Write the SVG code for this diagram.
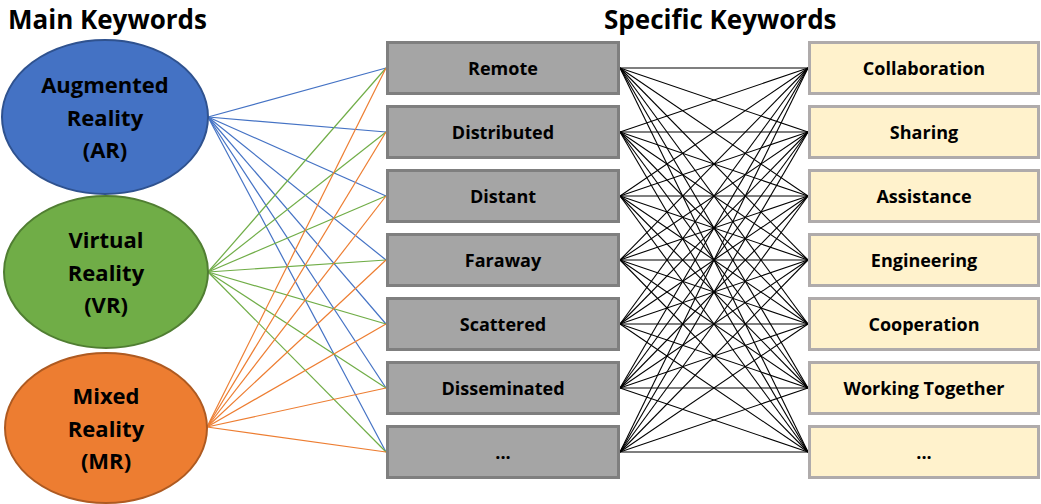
<svg xmlns="http://www.w3.org/2000/svg" width="1041" height="504" viewBox="0 0 1041 504">
<style>
text{font-family:"Open Sans","Liberation Sans",sans-serif;font-weight:bold;fill:#000;text-anchor:middle}
.title{font-size:26px;text-anchor:start}
.el{font-size:22px}
.bx{font-size:18px}
.g{fill:#a5a5a5;stroke:#7f7f7f;stroke-width:3}
.y{fill:#fff2cc;stroke:#afabab;stroke-width:3}
.b{stroke:#4472c4;stroke-width:1.2}
.gr{stroke:#70ad47;stroke-width:1.2}
.o{stroke:#ed7d31;stroke-width:1.2}
.k{stroke:#000;stroke-width:1.1}
</style>
<rect width="1041" height="504" fill="#fff"/>
<text class="title" x="8" y="29">Main Keywords</text>
<text class="title" x="604" y="29">Specific Keywords</text>
<g id="connectors" fill="none">
<g class="b">
<line x1="208" y1="117" x2="386" y2="68"/><line x1="208" y1="117" x2="386" y2="132"/><line x1="208" y1="117" x2="386" y2="196"/><line x1="208" y1="117" x2="386" y2="260"/><line x1="208" y1="117" x2="386" y2="324"/><line x1="208" y1="117" x2="386" y2="388"/><line x1="208" y1="117" x2="386" y2="452"/>
</g>
<g class="gr">
<line x1="208" y1="272" x2="386" y2="68"/><line x1="208" y1="272" x2="386" y2="132"/><line x1="208" y1="272" x2="386" y2="196"/><line x1="208" y1="272" x2="386" y2="260"/><line x1="208" y1="272" x2="386" y2="324"/><line x1="208" y1="272" x2="386" y2="388"/><line x1="208" y1="272" x2="386" y2="452"/>
</g>
<g class="o">
<line x1="207" y1="427" x2="386" y2="68"/><line x1="207" y1="427" x2="386" y2="132"/><line x1="207" y1="427" x2="386" y2="196"/><line x1="207" y1="427" x2="386" y2="260"/><line x1="207" y1="427" x2="386" y2="324"/><line x1="207" y1="427" x2="386" y2="388"/><line x1="207" y1="427" x2="386" y2="452"/>
</g>
<g class="k">
<line x1="620" y1="68" x2="808" y2="68"/><line x1="620" y1="68" x2="808" y2="132"/><line x1="620" y1="68" x2="808" y2="196"/><line x1="620" y1="68" x2="808" y2="260"/><line x1="620" y1="68" x2="808" y2="324"/><line x1="620" y1="68" x2="808" y2="388"/><line x1="620" y1="68" x2="808" y2="452"/>
<line x1="620" y1="132" x2="808" y2="68"/><line x1="620" y1="132" x2="808" y2="132"/><line x1="620" y1="132" x2="808" y2="196"/><line x1="620" y1="132" x2="808" y2="260"/><line x1="620" y1="132" x2="808" y2="324"/><line x1="620" y1="132" x2="808" y2="388"/><line x1="620" y1="132" x2="808" y2="452"/>
<line x1="620" y1="196" x2="808" y2="68"/><line x1="620" y1="196" x2="808" y2="132"/><line x1="620" y1="196" x2="808" y2="196"/><line x1="620" y1="196" x2="808" y2="260"/><line x1="620" y1="196" x2="808" y2="324"/><line x1="620" y1="196" x2="808" y2="388"/><line x1="620" y1="196" x2="808" y2="452"/>
<line x1="620" y1="260" x2="808" y2="68"/><line x1="620" y1="260" x2="808" y2="132"/><line x1="620" y1="260" x2="808" y2="196"/><line x1="620" y1="260" x2="808" y2="260"/><line x1="620" y1="260" x2="808" y2="324"/><line x1="620" y1="260" x2="808" y2="388"/><line x1="620" y1="260" x2="808" y2="452"/>
<line x1="620" y1="324" x2="808" y2="68"/><line x1="620" y1="324" x2="808" y2="132"/><line x1="620" y1="324" x2="808" y2="196"/><line x1="620" y1="324" x2="808" y2="260"/><line x1="620" y1="324" x2="808" y2="324"/><line x1="620" y1="324" x2="808" y2="388"/><line x1="620" y1="324" x2="808" y2="452"/>
<line x1="620" y1="388" x2="808" y2="68"/><line x1="620" y1="388" x2="808" y2="132"/><line x1="620" y1="388" x2="808" y2="196"/><line x1="620" y1="388" x2="808" y2="260"/><line x1="620" y1="388" x2="808" y2="324"/><line x1="620" y1="388" x2="808" y2="388"/><line x1="620" y1="388" x2="808" y2="452"/>
<line x1="620" y1="452" x2="808" y2="68"/><line x1="620" y1="452" x2="808" y2="132"/><line x1="620" y1="452" x2="808" y2="196"/><line x1="620" y1="452" x2="808" y2="260"/><line x1="620" y1="452" x2="808" y2="324"/><line x1="620" y1="452" x2="808" y2="388"/><line x1="620" y1="452" x2="808" y2="452"/>
</g>
</g>
<g id="ar"><ellipse cx="105" cy="117" rx="103" ry="77" fill="#4472c4" stroke="#2f528f" stroke-width="2"/>
<text class="el" x="105" y="93">Augmented</text><text class="el" x="105" y="126">Reality</text><text class="el" x="105" y="158">(AR)</text></g>
<g id="vr"><ellipse cx="106" cy="272" rx="102" ry="76" fill="#70ad47" stroke="#507e32" stroke-width="2"/>
<text class="el" x="106" y="248">Virtual</text><text class="el" x="106" y="281">Reality</text><text class="el" x="106" y="313">(VR)</text></g>
<g id="mr"><ellipse cx="106" cy="428" rx="101" ry="75" fill="#ed7d31" stroke="#ae5a21" stroke-width="2"/>
<text class="el" x="106" y="404">Mixed</text><text class="el" x="106" y="437">Reality</text><text class="el" x="106" y="469">(MR)</text></g>
<g id="remote"><rect class="g" x="387.5" y="42.5" width="231" height="51"/><text class="bx" x="503" y="75">Remote</text></g>
<g id="distributed"><rect class="g" x="387.5" y="106.5" width="231" height="51"/><text class="bx" x="503" y="139">Distributed</text></g>
<g id="distant"><rect class="g" x="387.5" y="170.5" width="231" height="51"/><text class="bx" x="503" y="203">Distant</text></g>
<g id="faraway"><rect class="g" x="387.5" y="234.5" width="231" height="51"/><text class="bx" x="503" y="267">Faraway</text></g>
<g id="scattered"><rect class="g" x="387.5" y="298.5" width="231" height="51"/><text class="bx" x="503" y="331">Scattered</text></g>
<g id="disseminated"><rect class="g" x="387.5" y="362.5" width="231" height="51"/><text class="bx" x="503" y="395">Disseminated</text></g>
<g id="gray-more"><rect class="g" x="387.5" y="426.5" width="231" height="51"/><text class="bx" x="503" y="459">...</text></g>
<g id="collaboration"><rect class="y" x="809.5" y="42.5" width="229" height="51"/><text class="bx" x="924" y="75">Collaboration</text></g>
<g id="sharing"><rect class="y" x="809.5" y="106.5" width="229" height="51"/><text class="bx" x="924" y="139">Sharing</text></g>
<g id="assistance"><rect class="y" x="809.5" y="170.5" width="229" height="51"/><text class="bx" x="924" y="203">Assistance</text></g>
<g id="engineering"><rect class="y" x="809.5" y="234.5" width="229" height="51"/><text class="bx" x="924" y="267">Engineering</text></g>
<g id="cooperation"><rect class="y" x="809.5" y="298.5" width="229" height="51"/><text class="bx" x="924" y="331">Cooperation</text></g>
<g id="working-together"><rect class="y" x="809.5" y="362.5" width="229" height="51"/><text class="bx" x="924" y="395">Working Together</text></g>
<g id="yellow-more"><rect class="y" x="809.5" y="426.5" width="229" height="51"/><text class="bx" x="924" y="459">...</text></g>
</svg>
